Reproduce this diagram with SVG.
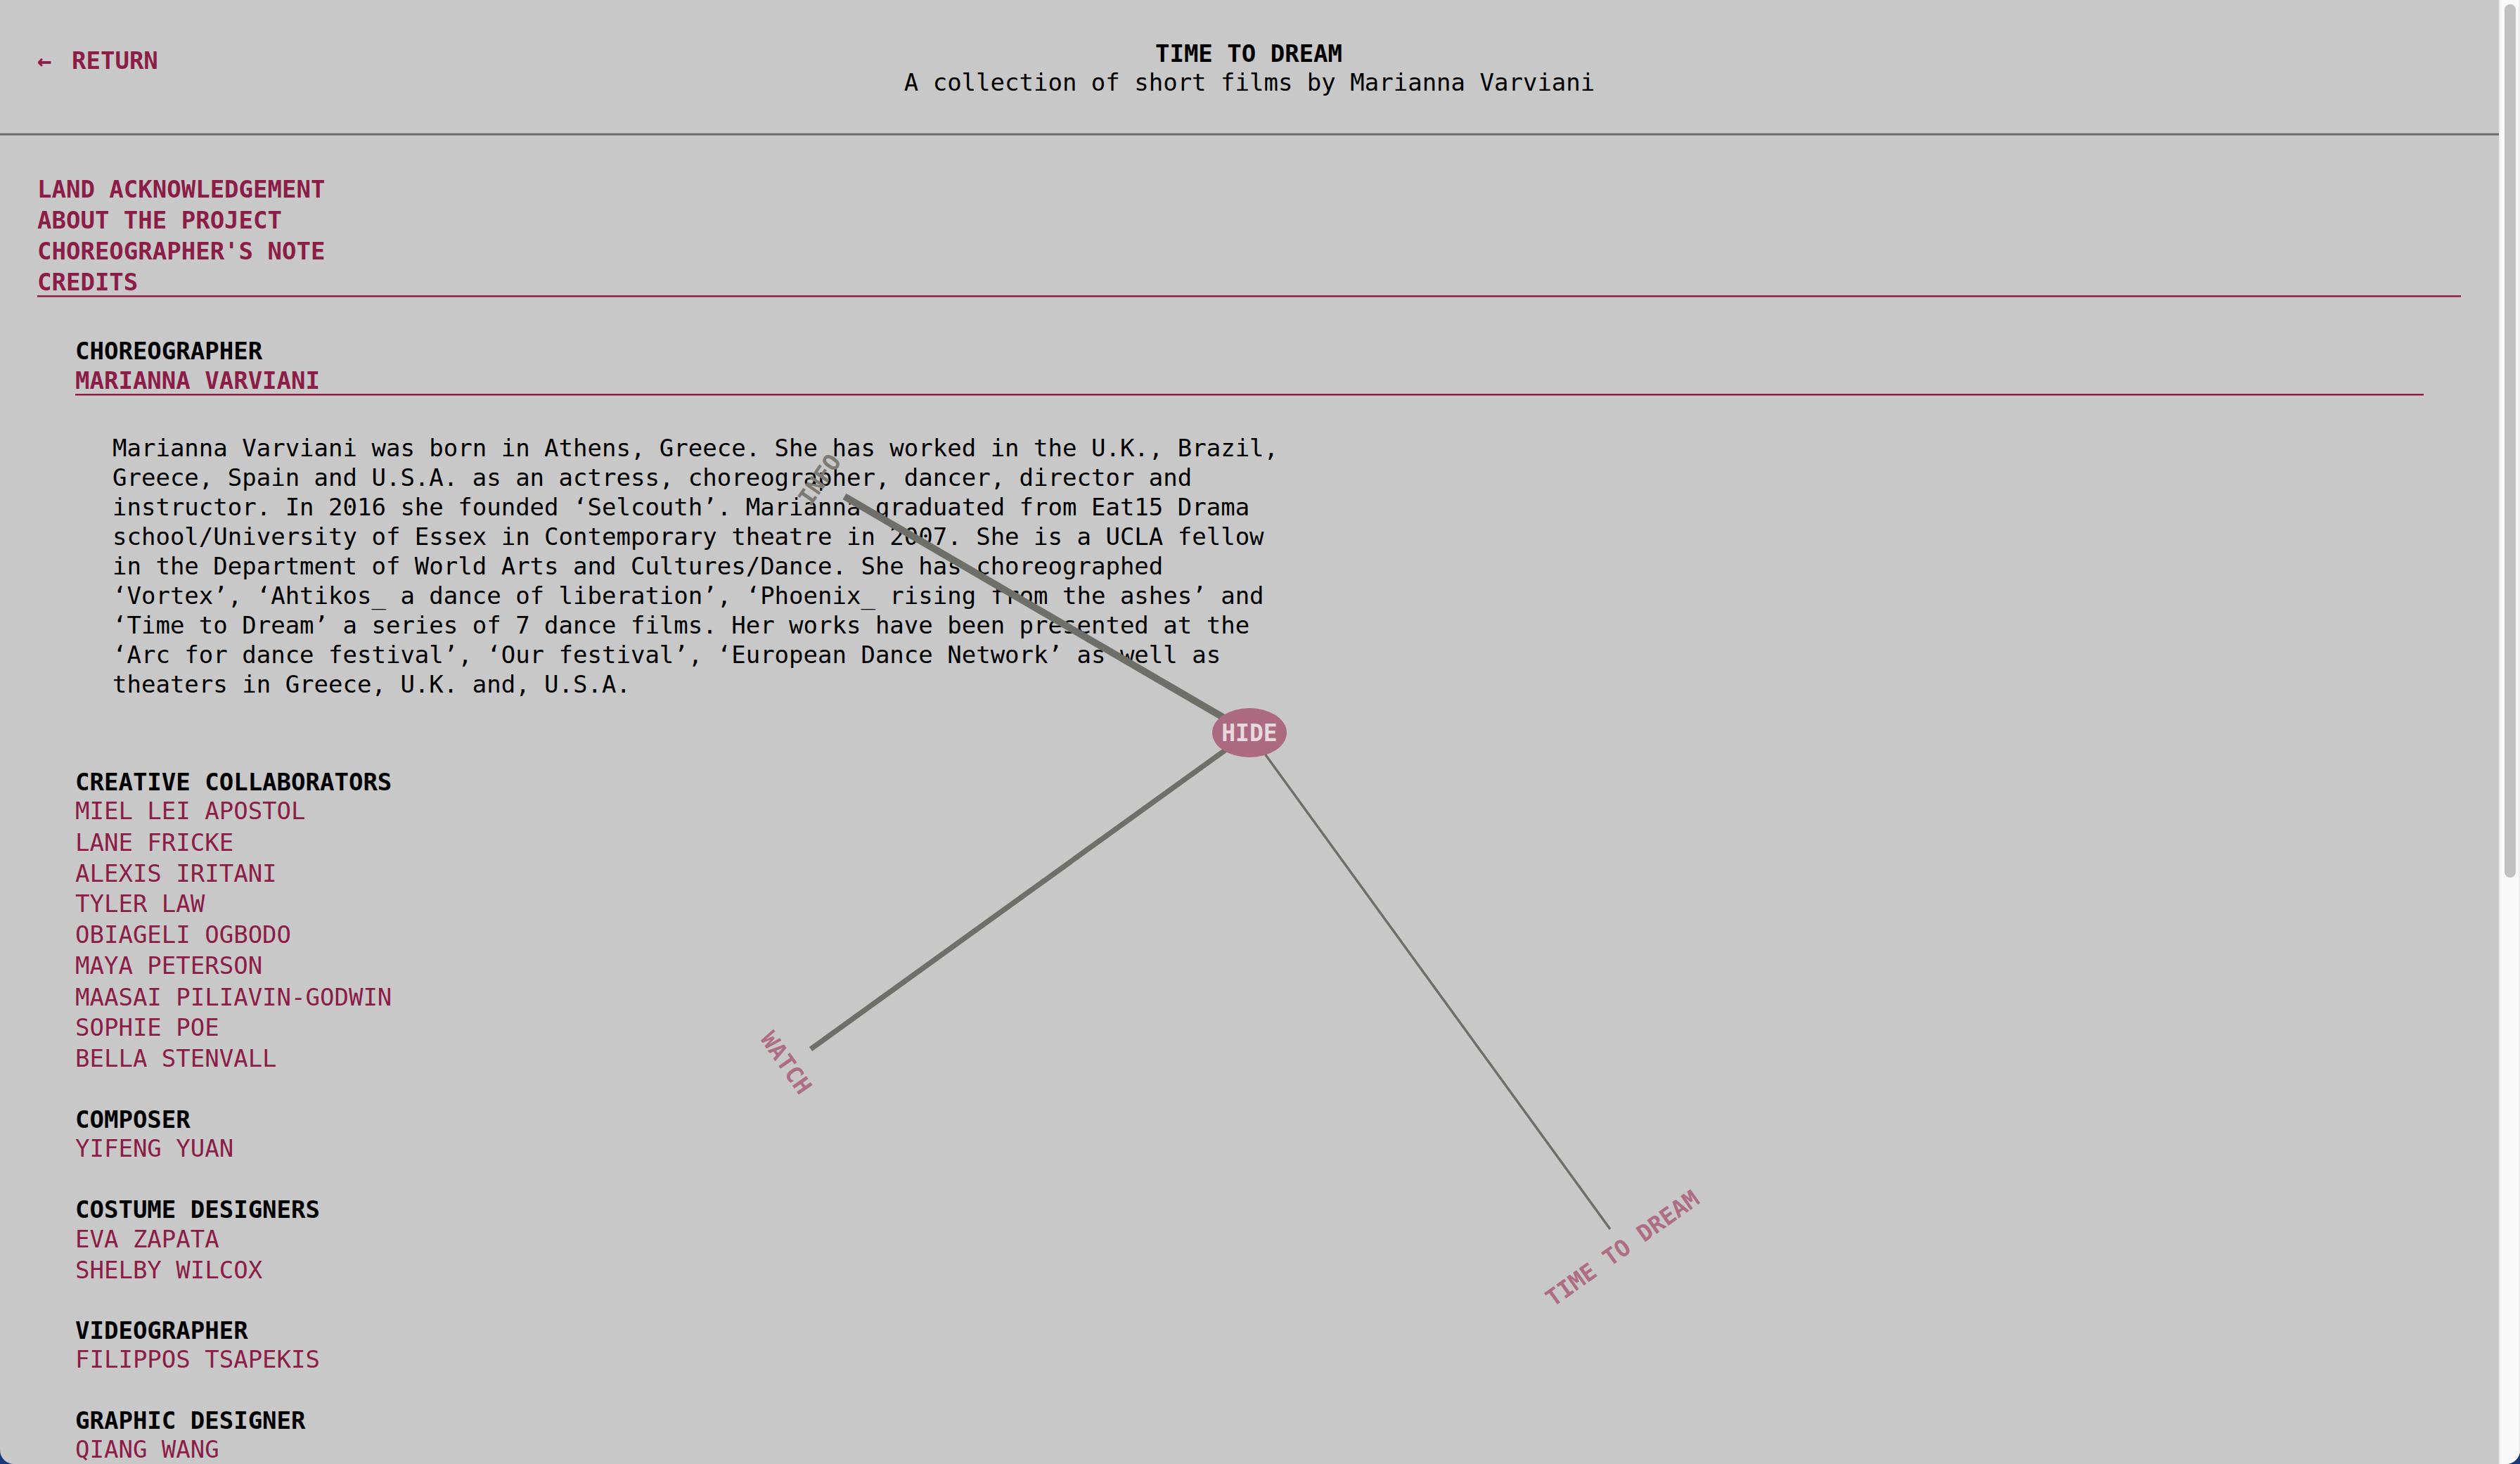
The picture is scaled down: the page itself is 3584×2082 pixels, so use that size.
<svg xmlns="http://www.w3.org/2000/svg" width="3584" height="2082" viewBox="0 0 3584 2082">
<style>
.t{font-family:"DejaVu Sans Mono","Liberation Mono",monospace;font-size:34px}
.b{font-weight:bold}
.crim{fill:#8b1d47}
.blk{fill:#000}
.lbl{font-family:"DejaVu Sans Mono","Liberation Mono",monospace;font-size:33px;font-weight:bold;text-anchor:middle}
.pink{fill:#ad6e83}
.link{stroke:#6e6f68;stroke-linecap:butt;fill:none}
</style>
<defs>
<clipPath id="win"><rect x="0" y="-40" width="3584" height="2122" rx="20" ry="20"/></clipPath>
</defs>
<rect x="0" y="0" width="3584" height="2082" fill="#183a78"/>
<g clip-path="url(#win)">
<rect x="0" y="0" width="3584" height="2082" fill="#c8c8c8"/>
<!-- scrollbar -->
<rect x="3554" y="0" width="30" height="2082" fill="#f9f9f9"/>
<rect x="3554" y="0" width="2" height="2082" fill="#ececec"/>
<rect x="3582" y="0" width="2" height="2082" fill="#ececec"/>
<rect x="3562" y="6" width="16" height="1242" rx="8" ry="8" fill="#c1c1c1"/>
</g>

<!-- header -->
<g id="header">
<text class="t b crim" x="53" y="98">←</text>
<text class="t b crim" x="102" y="98">RETURN</text>
<text class="t b blk" x="1776" y="88" text-anchor="middle">TIME TO DREAM</text>
<text class="t blk" x="1777" y="129" text-anchor="middle">A collection of short films by Marianna Varviani</text>
<rect x="0" y="189.5" width="3554" height="3" fill="#6b6b6b"/>
</g>

<!-- nav -->
<g id="nav">
<text class="t b crim" x="53" y="281">LAND ACKNOWLEDGEMENT</text>
<text class="t b crim" x="53" y="325">ABOUT THE PROJECT</text>
<text class="t b crim" x="53" y="369">CHOREOGRAPHER'S NOTE</text>
<text class="t b crim" x="53" y="413">CREDITS</text>
<rect x="53" y="420" width="3447" height="2.5" fill="#8b1d47"/>
</g>

<!-- choreographer -->
<g id="choreographer">
<text class="t b blk" x="107" y="511">CHOREOGRAPHER</text>
<text class="t b crim" x="107" y="553">MARIANNA VARVIANI</text>
<rect x="107" y="560" width="3340" height="2.5" fill="#8b1d47"/>
</g>

<g id="bio">
<text class="t blk" x="160" y="648.5">Marianna Varviani was born in Athens, Greece. She has worked in the U.K., Brazil,</text>
<text class="t blk" x="160" y="690.5">Greece, Spain and U.S.A. as an actress, choreographer, dancer, director and</text>
<text class="t blk" x="160" y="732.5">instructor. In 2016 she founded ‘Selcouth’. Marianna graduated from Eat15 Drama</text>
<text class="t blk" x="160" y="774.5">school/University of Essex in Contemporary theatre in 2007. She is a UCLA fellow</text>
<text class="t blk" x="160" y="816.5">in the Department of World Arts and Cultures/Dance. She has choreographed</text>
<text class="t blk" x="160" y="858.5">‘Vortex’, ‘Ahtikos_ a dance of liberation’, ‘Phoenix_ rising from the ashes’ and</text>
<text class="t blk" x="160" y="900.5">‘Time to Dream’ a series of 7 dance films. Her works have been presented at the</text>
<text class="t blk" x="160" y="942.5">‘Arc for dance festival’, ‘Our festival’, ‘European Dance Network’ as well as</text>
<text class="t blk" x="160" y="984.5">theaters in Greece, U.K. and, U.S.A.</text>
</g>

<g id="credits">
<text class="t b blk" x="107" y="1124">CREATIVE COLLABORATORS</text>
<text class="t crim" x="107" y="1165">MIEL LEI APOSTOL</text>
<text class="t crim" x="107" y="1209.5">LANE FRICKE</text>
<text class="t crim" x="107" y="1253.5">ALEXIS IRITANI</text>
<text class="t crim" x="107" y="1297">TYLER LAW</text>
<text class="t crim" x="107" y="1341">OBIAGELI OGBODO</text>
<text class="t crim" x="107" y="1385">MAYA PETERSON</text>
<text class="t crim" x="107" y="1429.5">MAASAI PILIAVIN-GODWIN</text>
<text class="t crim" x="107" y="1473">SOPHIE POE</text>
<text class="t crim" x="107" y="1517">BELLA STENVALL</text>
<text class="t b blk" x="107" y="1604">COMPOSER</text>
<text class="t crim" x="107" y="1645">YIFENG YUAN</text>
<text class="t b blk" x="107" y="1732">COSTUME DESIGNERS</text>
<text class="t crim" x="107" y="1773.5">EVA ZAPATA</text>
<text class="t crim" x="107" y="1817.5">SHELBY WILCOX</text>
<text class="t b blk" x="107" y="1903.5">VIDEOGRAPHER</text>
<text class="t crim" x="107" y="1945">FILIPPOS TSAPEKIS</text>
<text class="t b blk" x="107" y="2032">GRAPHIC DESIGNER</text>
<text class="t crim" x="107" y="2073">QIANG WANG</text>
</g>

<!-- graph connectors -->
<g id="connectors">
<line class="link" x1="1777" y1="1042" x2="1201" y2="706" stroke-width="10"/>
<line class="link" x1="1777" y1="1042" x2="1153" y2="1492" stroke-width="7.5"/>
<line class="link" x1="1777" y1="1042" x2="2290" y2="1748" stroke-width="3.5"/>
</g>

<g id="node-hide">
<ellipse cx="1777" cy="1042" rx="53" ry="35" fill="#ab6a80"/>
<text class="lbl" x="1777" y="1054" fill="#e6d8dd">HIDE</text>
</g>
<g id="node-info">
<text class="lbl" transform="translate(1165 682) rotate(-55.5)" x="0" y="12" fill="#7b7b74">INFO</text>
</g>
<g id="node-watch">
<text class="lbl pink" transform="translate(1118.5 1511) rotate(55)" x="0" y="12">WATCH</text>
</g>
<g id="node-time-to-dream">
<text class="lbl pink" transform="translate(2307 1775) rotate(-35.4)" x="0" y="12">TIME TO DREAM</text>
</g>
</svg>
